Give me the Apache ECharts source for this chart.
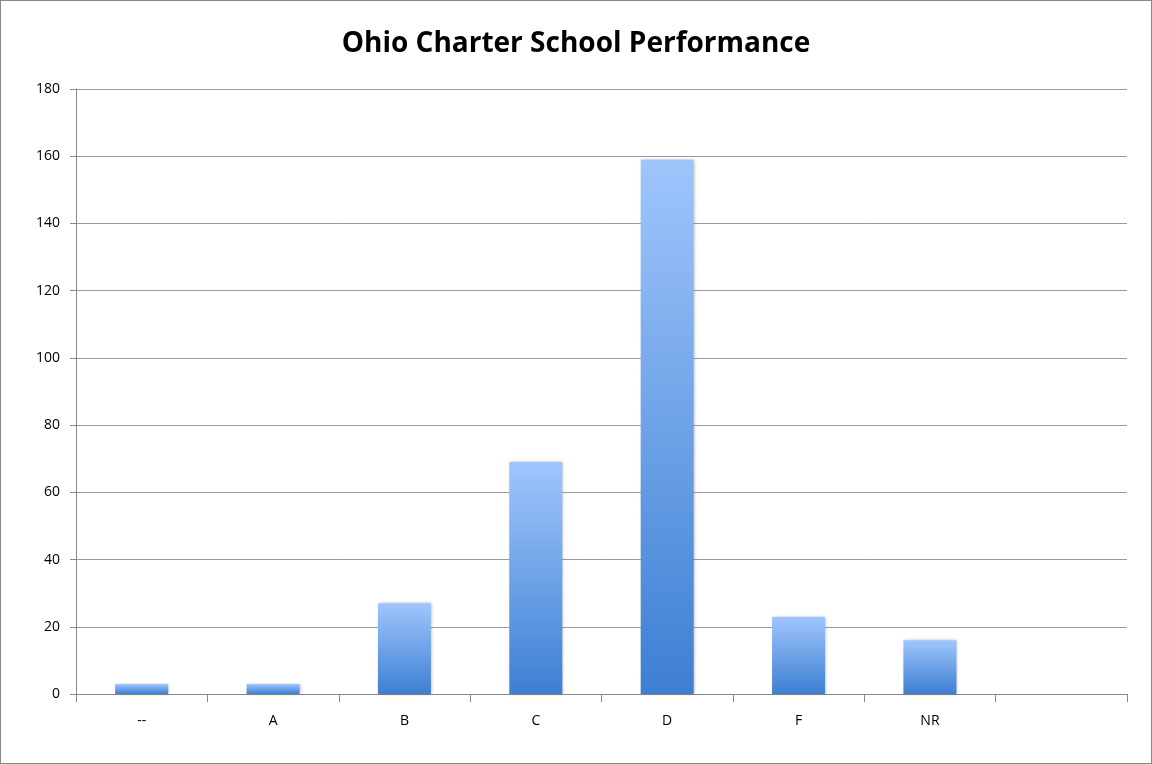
<!DOCTYPE html>
<html><head><meta charset="utf-8">
<script src="https://cdn.jsdelivr.net/npm/echarts@6/dist/echarts.min.js"></script>
<style>html,body{margin:0;padding:0;background:#fff}#c{width:1152px;height:764px;box-sizing:border-box;border:1px solid #888}</style>
</head><body><div id="c"></div>
<script>
const categories = ['--','A','B','C','D','F','NR',''];
const values = [3,3,27,69,159,23,16,null];
const yTicks = {min:0,max:180,interval:20};
const chart = echarts.init(document.getElementById('c'));
chart.setOption({
  animation:false,
  title:{text:'Ohio Charter School Performance',left:'center',top:24,textStyle:{fontFamily:'Open Sans',fontSize:28,fontWeight:'bold',color:'#000'}},
  grid:{left:75,right:24,top:88,bottom:69},
  xAxis:{type:'category',data:categories,
    axisLine:{lineStyle:{color:'#888'}},
    axisTick:{show:true,length:8,lineStyle:{color:'#888'}},
    axisLabel:{color:'#000',fontFamily:'Open Sans',fontSize:14,margin:20}},
  yAxis:{type:'value',min:yTicks.min,max:yTicks.max,interval:yTicks.interval,
    axisLine:{show:true,lineStyle:{color:'#888'}},
    axisTick:{show:true,length:6,lineStyle:{color:'#888'}},
    splitLine:{lineStyle:{color:'#999'}},
    axisLabel:{color:'#000',fontFamily:'Open Sans',fontSize:14,margin:16}},
  series:[{type:'bar',data:values,barWidth:53,
    itemStyle:{color:new echarts.graphic.LinearGradient(0,0,0,1,[{offset:0,color:'#9fc6fc'},{offset:1,color:'#3d7fd3'}]),
      shadowColor:'rgba(0,0,0,0.25)',shadowBlur:3,shadowOffsetX:1,shadowOffsetY:0}}]
});
</script></body></html>
